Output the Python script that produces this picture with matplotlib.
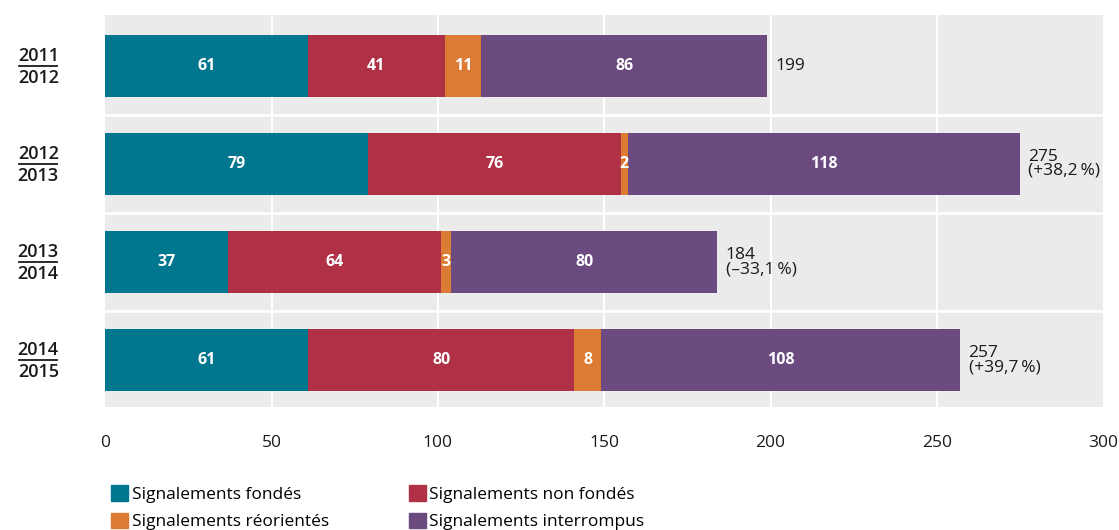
import numpy as np
import matplotlib.pyplot as plt
import matplotlib.transforms as mtransforms
from matplotlib.patches import Patch

plt.rcParams['font.family'] = ['Open Sans', 'DejaVu Sans']

# Data
periods = [('2011', '2012'), ('2012', '2013'), ('2013', '2014'), ('2014', '2015')]
fondes = [61, 79, 37, 61]
non_fondes = [41, 76, 64, 80]
reorientes = [11, 2, 3, 8]
interrompus = [86, 118, 80, 108]

series_names = ['Signalements fondés', 'Signalements non fondés',
                'Signalements réorientés', 'Signalements interrompus']
colors = ['#00768f', '#b03045', '#dc7b33', '#6b4a7f']

series = [fondes, non_fondes, reorientes, interrompus]
totals = np.sum(series, axis=0)

fig = plt.figure(figsize=(11.19, 5.30), dpi=100)
ax = fig.add_axes([0.094, 0.232, 0.892, 0.740])
ax.set_facecolor('#ebebeb')

y = np.arange(len(periods))
left = np.zeros(len(periods))
for vals, col in zip(series, colors):
    vals = np.array(vals)
    ax.barh(y + 0.02, vals, left=left, height=0.63, color=col, zorder=3)
    for yi, l, v in zip(y, left, vals):
        ax.text(l + v / 2, yi + 0.02, str(v), ha='center', va='center',
                color='white', fontsize=11.5, fontweight='bold', zorder=4)
    left += vals

# totals with change from the previous period
for i, tot in enumerate(totals):
    if i == 0:
        label = str(tot)
    else:
        pct = (tot / totals[i - 1] - 1) * 100
        sign = '+' if pct >= 0 else '\u2013'
        label = f"{tot}\n({sign}{abs(pct):.1f}\u2009%)".replace('.', ',')
    ax.text(tot + 2.5, i + 0.02, label, ha='left', va='center', fontsize=12.5,
            fontweight='medium', color='#1a1a1a', linespacing=0.85, zorder=4)

ax.set_xlim(0, 300)
ax.set_ylim(len(periods) - 0.5, -0.5)
ax.set_xticks(np.arange(0, 301, 50))
ax.set_yticks([])
for x in np.arange(50, 300, 50):
    ax.axvline(x, color='white', lw=1.5, zorder=1)
for yb in np.arange(0.5, len(periods) - 0.5, 1):
    ax.axhline(yb + 0.02, color='white', lw=2, zorder=1)
for s in ax.spines.values():
    s.set_visible(False)
ax.tick_params(axis='x', length=0, pad=20, labelsize=12.5, colors='#1a1a1a')

# period labels drawn as stacked fractions
trans = mtransforms.blended_transform_factory(ax.transAxes, ax.transData)
for yi, (a, b) in zip(y, periods):
    ax.text(-0.067, yi + 0.015, a, transform=trans, ha='center', va='bottom',
            fontsize=13, fontweight='semibold', color='#1a1a1a', clip_on=False)
    ax.text(-0.067, yi + 0.05, b, transform=trans, ha='center', va='top',
            fontsize=13, fontweight='semibold', color='#1a1a1a', clip_on=False)
    ax.plot([-0.086, -0.048], [yi + 0.02, yi + 0.02], transform=trans,
            color='#1a1a1a', lw=1.3, clip_on=False)

handles = [Patch(color=c) for c in colors]
order = [0, 2, 1, 3]
fig.legend([handles[i] for i in order], [series_names[i] for i in order],
           ncol=2, loc='lower left', bbox_to_anchor=(0.085, -0.03),
           frameon=False, fontsize=12.5, handlelength=1.0, handleheight=1.0,
           handletextpad=0.2, columnspacing=4.6, labelspacing=0.55)

fig.savefig('out.png', dpi=100)
